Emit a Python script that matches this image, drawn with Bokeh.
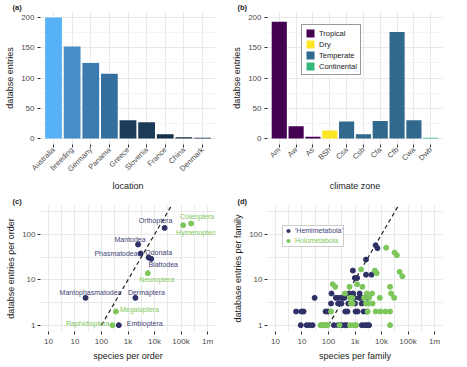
import math
from bokeh.plotting import figure
from bokeh.models import (ColumnDataSource, FactorRange, Range1d, FixedTicker, Grid,
                          Legend, LegendItem, BoxAnnotation, CustomJSTickFormatter,
                          SingleIntervalTicker)
from bokeh.layouts import gridplot
from bokeh.core.properties import value
from bokeh.embed import file_html
from bokeh.resources import INLINE

FONT = "Liberation Sans"

# ---------------- data ----------------
# (a) entries per location
locations = ["Australia", "breeding", "Germany", "Panama", "Greece", "Slovenia", "France", "China", "Denmark"]
location_entries = [200, 152, 125, 107, 30, 27, 7, 2, 1]

# (b) entries per climate zone
climate_zones = ["Am", "Aw", "As", "BSh", "Csa", "Csb", "Cfa", "Cfb", "Cwa", "Dwb"]
climate_entries = [193, 20, 3, 13, 28, 7, 29, 176, 30, 1]
climate_groups = ["Tropical", "Tropical", "Tropical", "Dry", "Temperate", "Temperate",
                  "Temperate", "Temperate", "Temperate", "Continental"]
group_names = ["Tropical", "Dry", "Temperate", "Continental"]
group_colors = ["#440154", "#FDE725", "#31688E", "#35B779"]

# (c) entries per order
order_names = ["Orthoptera", "Coleoptera", "Hymenoptera", "Mantodea", "Phasmatodea", "Odonata",
               "Blattodea", "Neuroptera", "Mantophasmatodea", "Dermaptera", "Megaloptera",
               "Raphidioptera", "Embioptera"]
order_species = [24000, 240000, 120000, 2400, 3000, 6000, 7500, 5600, 25, 1900, 350, 260, 450]
order_entries = [140, 175, 160, 60, 38, 31, 29, 14, 4, 4, 2, 1, 1]
order_group = ["Hemimetabola", "Holometabola", "Holometabola", "Hemimetabola", "Hemimetabola",
               "Hemimetabola", "Hemimetabola", "Holometabola", "Hemimetabola", "Hemimetabola",
               "Holometabola", "Holometabola", "Hemimetabola"]

# (d) entries per family
hemi_species = [9, 15, 19, 25, 160, 230, 300, 400, 480, 1800, 2300, 2800, 3400,
                6, 9.5, 11.5, 78, 95, 430, 520, 1050, 1250, 2100, 2800,
                125, 230, 310, 560, 1000, 1800,
                30, 190, 240, 310, 400, 950, 1450, 1800, 3000,
                130, 600, 850, 1500,
                990, 1200, 2600, 4200, 830, 2600, 7000, 6000]
hemi_entries = [1, 1, 1, 1, 1, 1, 1, 1, 1, 1, 1, 1, 1,
                2, 2, 2, 2, 2, 2, 2, 2, 2, 2, 2,
                3, 3, 3, 3, 3, 3,
                4, 4, 4, 4, 4, 4, 4, 4, 4,
                5, 5, 5, 5,
                11, 11, 13, 13, 16, 28, 50, 58]
holo_species = [50, 57, 64, 72, 80, 92, 260, 650, 900, 1100, 21000,
                125, 3000, 6000, 9000, 14000, 21000,
                700, 820, 2600, 3200, 4600,
                650, 800, 2200, 3400, 8600, 30000,
                420, 2800, 4400, 23000,
                180, 620, 1900, 21000,
                145, 1200,
                6600, 5600, 61000, 48000, 1700, 38000, 31000, 15000]
holo_entries = [1, 1, 1, 1, 1, 1, 1, 1, 1, 1, 1,
                2, 2, 2, 2, 2, 2,
                3, 3, 3, 3, 3,
                4, 4, 4, 4, 4, 4,
                5, 5, 5, 5,
                7, 7, 7, 7,
                8, 8,
                14, 16, 12, 15, 17, 35, 40, 51]

# reference line: one database entry per 100 species
ref_species = [100, 100000]
ref_ratio = 100

log_tick_values = [1, 10, 100, 1000, 10000, 100000, 1000000]
log_tick_labels = ["10", "10", "100", "1k", "10k", "100k", "1m"]
ylog_tick_values = [1, 10, 100]
ylog_tick_labels = ["1", "10", "100"]
panel_titles = ["(a)", "(b)", "(c)", "(d)"]

# ---------------- styles ----------------
HEMI = "#2e3066"
HEMI_TXT = "#414475"
HOLO = "#7cc65a"
HOLO_TXT = "#7fc75e"
GRID_MAJ = "#e6e6e6"
GRID_MIN = "#f3f3f3"


def hex_to_lab(h):
    h = h.lstrip("#")
    rgb = [int(h[i:i + 2], 16) / 255 for i in (0, 2, 4)]
    lin = [c / 12.92 if c <= 0.04045 else ((c + 0.055) / 1.055) ** 2.4 for c in rgb]
    X = 0.4124 * lin[0] + 0.3576 * lin[1] + 0.1805 * lin[2]
    Y = 0.2126 * lin[0] + 0.7152 * lin[1] + 0.0722 * lin[2]
    Z = 0.0193 * lin[0] + 0.1192 * lin[1] + 0.9505 * lin[2]
    d = 6 / 29

    def f(t):
        return t ** (1 / 3) if t > d ** 3 else t / (3 * d * d) + 4 / 29
    fx, fy, fz = f(X / 0.95047), f(Y / 1.0), f(Z / 1.08883)
    return 116 * fy - 16, 500 * (fx - fy), 200 * (fy - fz)


def lab_to_hex(L, a, b):
    d = 6 / 29
    fy = (L + 16) / 116
    fx = fy + a / 500
    fz = fy - b / 200

    def finv(t):
        return t ** 3 if t > d else 3 * d * d * (t - 4 / 29)
    X, Y, Z = 0.95047 * finv(fx), finv(fy), 1.08883 * finv(fz)
    r = 3.2406 * X - 1.5372 * Y - 0.4986 * Z
    g = -0.9689 * X + 1.8758 * Y + 0.0415 * Z
    bb = 0.0557 * X - 0.2040 * Y + 1.0570 * Z
    out = []
    for c in (r, g, bb):
        c = max(0.0, min(1.0, c))
        c = 12.92 * c if c <= 0.0031308 else 1.055 * c ** (1 / 2.4) - 0.055
        out.append(int(round(c * 255)))
    return "#%02x%02x%02x" % tuple(out)


def gradient(v, vmin, vmax, lo="#132B43", hi="#56B1F7"):
    t = (v - vmin) / (vmax - vmin)
    l1, l2 = hex_to_lab(lo), hex_to_lab(hi)
    return lab_to_hex(*[a + (b - a) * t for a, b in zip(l1, l2)])


def style(p, xlabel, ylabel, title, title_off):
    for ax in (p.xaxis, p.yaxis):
        ax.axis_line_color = None
        ax.major_tick_line_color = "#333333"
        ax.major_tick_in = 0
        ax.major_tick_out = 3
        ax.minor_tick_line_color = None
        ax.major_label_text_font = FONT
        ax.major_label_text_font_size = "8px"
        ax.major_label_text_color = "#4d4d4d"
        ax.major_label_standoff = 2
        ax.axis_label_text_font = FONT
        ax.axis_label_text_font_size = "9px"
        ax.axis_label_text_font_style = "normal"
        ax.axis_label_text_color = "#1a1a1a"
        ax.axis_label_standoff = 3
    p.xaxis.axis_label = xlabel
    p.yaxis.axis_label = ylabel
    p.grid.grid_line_color = GRID_MAJ
    p.grid.grid_line_width = 0.9
    p.outline_line_color = None
    p.title.text = title
    p.title.align = "left"
    p.title.offset = title_off
    p.title.standoff = 0
    p.title.text_font = FONT
    p.title.text_font_size = "7.5px"
    p.title.text_font_style = "bold"
    p.title.text_color = "#1a1a1a"


def tick_fmt(vals, labels):
    return CustomJSTickFormatter(args=dict(vals=vals, labels=labels), code="""
        for (let i = 0; i < vals.length; i++) {
            if (Math.abs(tick - vals[i]) <= 1e-6 * vals[i]) return labels[i];
        }
        return "";
    """)


common = dict(output_backend="svg", toolbar_location=None, background_fill_color="white",
              border_fill_color="white")

FW, FH_TOP, FH_BOT = 175, 133, 126

# ---------------- (a) ----------------
src_a = ColumnDataSource(dict(loc=locations, val=location_entries,
                              col=[gradient(v, min(location_entries), max(location_entries))
                                   for v in location_entries]))
pa = figure(x_range=FactorRange(*locations, range_padding=0.2, range_padding_units="absolute"),
            y_range=Range1d(-10, 210), frame_width=FW, frame_height=FH_TOP,
            min_border_left=40, min_border_right=10, min_border_top=10, min_border_bottom=30, **common)
pa.vbar(x="loc", top="val", width=0.9, source=src_a, fill_color="col", line_color=None)
style(pa, "location", "databse entries", panel_titles[0], -28)
pa.yaxis.ticker = SingleIntervalTicker(interval=50, num_minor_ticks=2)
pa.ygrid.minor_grid_line_color = GRID_MIN
pa.xaxis.major_label_orientation = math.pi / 4
pa.xaxis.major_label_text_font_size = "7.5px"
pa.xaxis.major_label_standoff = 1
pa.xaxis.axis_label_standoff = 1

# ---------------- (b) ----------------
src_b = ColumnDataSource(dict(zone=climate_zones, val=climate_entries, group=climate_groups,
                              col=[group_colors[group_names.index(g)] for g in climate_groups]))
pb = figure(x_range=FactorRange(*climate_zones, range_padding=0.2, range_padding_units="absolute"),
            y_range=Range1d(-10, 210), frame_width=FW, frame_height=FH_TOP,
            min_border_left=42, min_border_right=9, min_border_top=10, min_border_bottom=30, **common)
pb.vbar(x="zone", top="val", width=0.9, source=src_b, fill_color="col", line_color=None,
        legend_field="group")
style(pb, "climate zone", "databse entries", panel_titles[1], -30)
pb.yaxis.ticker = SingleIntervalTicker(interval=50, num_minor_ticks=2)
pb.ygrid.minor_grid_line_color = GRID_MIN
pb.xaxis.major_label_orientation = math.pi / 4
pb.xaxis.major_label_text_font_size = "7.5px"
pb.xaxis.major_label_standoff = 1
pb.xaxis.axis_label_standoff = 13
lg = pb.legend[0]
lg.location = (34, FH_TOP - 15 - 49)
lg.glyph_width = 10
lg.glyph_height = 10
lg.label_height = 10
lg.label_text_font = FONT
lg.label_text_font_size = "7.5px"
lg.label_text_color = "#1a1a1a"
lg.label_standoff = 4
lg.spacing = 1
lg.padding = 3
lg.margin = 0
lg.border_line_color = "#333333"
lg.border_line_width = 1
lg.background_fill_alpha = 1


# ---------------- (c) & (d) ----------------
def log_fig(ml, mr):
    p = figure(x_axis_type="log", y_axis_type="log",
               x_range=Range1d(10 ** -0.3, 10 ** 6.3), y_range=Range1d(10 ** -0.14, 10 ** 2.64),
               frame_width=FW, frame_height=FH_BOT, min_border_left=ml, min_border_right=mr,
               min_border_top=10, min_border_bottom=26, **common)
    p.xaxis.ticker = FixedTicker(ticks=log_tick_values)
    p.yaxis.ticker = FixedTicker(ticks=ylog_tick_values)
    p.xaxis.formatter = tick_fmt(log_tick_values, log_tick_labels)
    p.yaxis.formatter = tick_fmt(ylog_tick_values, ylog_tick_labels)
    p.add_layout(Grid(dimension=0, ticker=FixedTicker(ticks=[10 ** (k + 0.5) for k in range(-1, 7)]),
                      grid_line_color=GRID_MIN, grid_line_width=0.8))
    p.add_layout(Grid(dimension=1, ticker=FixedTicker(ticks=[10 ** (k + 0.5) for k in range(-1, 3)]),
                      grid_line_color=GRID_MIN, grid_line_width=0.8))
    p.line(ref_species, [s / ref_ratio for s in ref_species], line_dash="4 3",
           line_color="#222222", line_width=1.2)
    return p


pc = log_fig(40, 10)
style(pc, "species per order", "databse entries per order", panel_titles[2], -28)
pc.xaxis.axis_label_standoff = 2
# label placement (pixels) and alignment
lab_dx = [-9, 6, 14, -8, -3, 10, 12, 9, 5, 11, 4, -3, 8]
lab_dy = [-7, -7, 7, -5, 0, -5, 6, 6, -5, -5, -2, -2, -2]
lab_align = ["center", "center", "center", "center", "right", "center", "center", "center",
             "center", "center", "left", "right", "left"]
src_c = ColumnDataSource(dict(
    x=order_species, y=order_entries, name=order_names,
    col=[HEMI if g == "Hemimetabola" else HOLO for g in order_group],
    tcol=[HEMI_TXT if g == "Hemimetabola" else HOLO_TXT for g in order_group],
    dx=lab_dx, dy=lab_dy, al=lab_align))
pc.scatter("x", "y", source=src_c, size=5, fill_color="col", line_color="col")
pc.text("x", "y", text="name", source=src_c, x_offset="dx", y_offset="dy", text_align="al",
        text_baseline="middle", text_font=value(FONT), text_font_size="7px", text_color="tcol")

pd = log_fig(42, 9)
style(pd, "species per family", "database entries per family", panel_titles[3], -30)
pd.xaxis.axis_label_standoff = 2
r_hemi = pd.scatter(hemi_species, hemi_entries, size=5, color=HEMI)
r_holo = pd.scatter(holo_species, holo_entries, size=5, color=HOLO)
pd.add_layout(BoxAnnotation(left=15, right=76, top=FH_BOT - 20, bottom=FH_BOT - 41,
                            left_units="screen", right_units="screen", top_units="screen",
                            bottom_units="screen", fill_color="white", fill_alpha=1,
                            line_color="#555555", line_width=1, level="overlay"))
for i, (lab, r, tc) in enumerate([("'Hemimetabola'", r_hemi, HEMI_TXT),
                                  ("Holometabola", r_holo, HOLO_TXT)]):
    leg = Legend(items=[LegendItem(label=lab, renderers=[r])],
                 location=(17, FH_BOT - 30 - 10 * i),
                 border_line_color=None, background_fill_alpha=0, glyph_width=8, glyph_height=9,
                 label_height=9, label_text_font=FONT, label_text_font_size="7px",
                 label_text_color=tc, label_standoff=3, padding=0, margin=0, spacing=0)
    pd.add_layout(leg)

grid = gridplot([[pa, pb], [pc, pd]], toolbar_location=None)
open("out.html", "w").write(file_html(grid, INLINE))
